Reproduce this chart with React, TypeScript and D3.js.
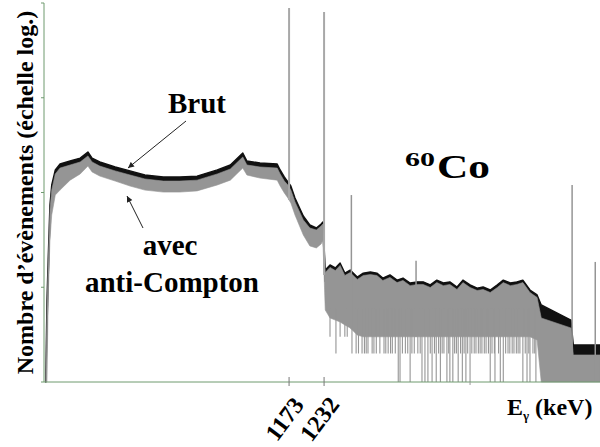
import React from "react";
import * as d3 from "d3";

// Energy samples (keV) of the spectrum envelopes
const energies = [
  763, 765, 767, 770, 773, 779, 787, 804, 821, 834,
  841, 854, 880, 905, 930, 961, 989, 1018, 1052, 1074,
  1095, 1102, 1124, 1153, 1158, 1165, 1171, 1176, 1183, 1197,
  1208, 1219, 1227, 1230,
  1234, 1242, 1251, 1259, 1267, 1276, 1288, 1298, 1310, 1321,
  1331, 1343, 1355, 1365, 1377, 1389, 1399, 1411, 1422, 1433,
  1444, 1456, 1466, 1478, 1490, 1500, 1512, 1524, 1534, 1546,
  1557, 1567, 1579, 1591, 1598, 1648, 1652, 1697,
];

// "Brut" (raw) spectrum: upper / lower edge of the noisy band (counts)
const brutHigh = [
  1, 7.3, 19.4, 73.8, 120, 173, 200, 215, 231, 268,
  231, 210, 186, 169, 153, 146, 146, 149, 173, 195,
  261, 215, 205, 200, 173, 146, 129, 117, 87.5, 56.5,
  45.4, 42.2, 46.5, 48.8,
  15.2, 17.2, 16.0, 18.0, 14.1, 15.2, 12.8, 14.1, 14.5, 14.1,
  12.5, 13.5, 11.9, 12.5, 11.1, 11.4, 11.4, 10.6, 11.9, 11.1,
  11.4, 10.06, 11.9, 10.6, 9.8, 10.06, 9.35, 10.6, 11.9, 11.1,
  11.4, 11.9, 9.35, 8.3, 6.5, 4.5, 2.46, 2.46,
];
const brutLow = [
  1, 3.54, 11.9, 51.3, 94, 142, 173, 186, 200, 231,
  200, 181, 161, 146, 132, 126, 126, 129, 149, 169,
  226, 186, 177, 173, 149, 126, 111, 101, 73.8, 48.8,
  38.3, 36.5, 38.3, 40.2,
  11.5, 13, 12, 13.6, 10.6, 11.5, 9.7, 10.6, 10.9, 10.6,
  9.4, 10.2, 9.0, 9.4, 8.3, 8.6, 8.6, 8.0, 9.0, 8.3,
  8.6, 7.6, 9.0, 8.0, 7.4, 7.6, 7.0, 8.0, 9.0, 8.3,
  8.6, 9.0, 7.0, 6.2, 4.5, 3.54, 1.93, 1.93,
];

// "avec anti-Compton" spectrum: upper / lower edge of the band (counts)
const acHigh = [
  1, 5.75, 17.2, 65.4, 106, 157, 181, 195, 210, 243,
  210, 190, 169, 153, 139, 132, 132, 135, 157, 177,
  237, 195, 186, 181, 157, 132, 120, 106, 79.4, 51.3,
  42.2, 40.2, 44.3, 46.5,
  14.3, 16.2, 15.0, 17.0, 13.3, 14.3, 12.1, 13.3, 13.6, 13.3,
  11.8, 12.7, 11.2, 11.8, 10.4, 10.7, 10.7, 9.94, 11.2, 10.4,
  10.7, 9.47, 11.2, 9.94, 9.24, 9.47, 8.8, 9.94, 11.2, 10.4,
  10.7, 11.2, 8.8, 7.8, 4.74, 3.72, 1.93, 1.93,
];
const acLow = [
  1, 1, 7.3, 31.5, 57.9, 94, 106, 135, 157, 190,
  165, 149, 132, 117, 106, 101, 101, 104, 120, 135,
  181, 153, 142, 135, 117, 99, 87.5, 77.5, 57.9, 35.6,
  27.3, 26, 28.6, 31.5,
  5.75, 4.74, 4.5, 4.3, 4.0, 3.72, 3.13, 3.0, 3.0, 3.0,
  3.0, 3.0, 3.0, 3.0, 3.0, 3.0, 3.0, 3.0, 3.0, 3.0,
  3.0, 3.0, 3.0, 3.0, 3.0, 3.0, 3.0, 3.0, 3.0, 3.0,
  3.0, 3.0, 3.0, 2.78, 1, 1, 1, 1,
];

// Low-count channels of the anti-Compton spectrum: [energy keV, counts]
const dips: [number, number][] = [
  [1242, 3], [1252, 2], [1259, 3], [1267, 3], [1271, 3], [1279, 2], [1286, 2], [1290, 2],
  [1296, 2], [1300, 2], [1303, 2], [1306, 2], [1313, 2], [1316, 2], [1320, 2], [1326, 2],
  [1333, 2], [1336, 2], [1340, 2], [1344, 2], [1347, 2], [1352, 2], [1357, 1], [1360, 1],
  [1364, 2], [1369, 2], [1373, 2], [1377, 1], [1380, 2], [1384, 2], [1390, 2], [1394, 2],
  [1397, 1], [1402, 1], [1407, 1], [1411, 2], [1414, 1], [1418, 2], [1421, 1], [1425, 2],
  [1428, 1], [1431, 2], [1434, 2], [1439, 1], [1442, 2], [1444, 1], [1449, 1], [1452, 2],
  [1455, 2], [1458, 1], [1462, 2], [1465, 1], [1468, 2], [1471, 1], [1474, 2], [1478, 1],
  [1481, 2], [1485, 2], [1488, 2], [1492, 2], [1495, 2], [1498, 2], [1502, 2], [1505, 2],
  [1509, 2], [1512, 1], [1515, 2], [1519, 2], [1520, 1], [1526, 2], [1529, 1], [1534, 1],
  [1538, 2], [1542, 2], [1545, 2], [1549, 2], [1552, 2], [1556, 2], [1559, 2], [1562, 2],
  [1567, 1], [1571, 2], [1574, 1], [1577, 2], [1579, 1], [1584, 2], [1587, 2], [1589, 1],
];

// Photopeaks / lines
const peakEnergies = [1173, 1232, 1278, 1387, 1650, 1689];
const peakCounts = [8850, 8030, 94, 19, 120, 18.5];

const xTickValues = [1173, 1232];
const xTickLabels = ["1173", "1232"];
const xMinorTicks = [1478];
const yTickValues = [1, 10, 100, 1000, 10000];

const FONT = "'Liberation Serif', 'Times New Roman', Times, serif";
const GRAY = "#959595";
const AXIS = "#6f9a6f";

export default function App() {
  const x = d3.scaleLinear().domain([760, 1697]).range([44, 600]);
  const y = d3.scaleLog().domain([1, 10000]).range([382, 3]);
  const idx = energies.map((_, i) => i);

  const band = (hi: number[], lo: number[]) =>
    d3
      .area<number>()
      .x((i) => x(energies[i]))
      .y0((i) => y(lo[i]))
      .y1((i) => y(hi[i]))(idx) || "";

  const interpLog = (arr: number[], e: number) => {
    const n = energies.length;
    let i1 = d3.bisectRight(energies, e);
    i1 = Math.min(Math.max(i1, 1), n - 1);
    const i0 = i1 - 1;
    const t = (e - energies[i0]) / (energies[i1] - energies[i0]);
    const l = Math.log10(arr[i0]) * (1 - t) + Math.log10(arr[i1]) * t;
    return Math.pow(10, l);
  };

  const [x0, x1] = x.range();
  const [yb, yt] = y.range();

  return (
    <svg
      width={600}
      height={447}
      style={{ position: "absolute", left: 0, top: 0, background: "#fff", fontFamily: FONT }}
    >
      <defs>
        <marker
          id="ah"
          viewBox="0 0 10 10"
          refX="10"
          refY="5"
          markerWidth="7"
          markerHeight="6"
          orient="auto"
          markerUnits="userSpaceOnUse"
        >
          <path d="M0,0 L10,5 L0,10 z" fill="#222" />
        </marker>
      </defs>
      <rect x={0} y={0} width={600} height={447} fill="#fff" />

      {/* Brut band */}
      <path d={band(brutHigh, brutLow)} fill="#111" stroke="#111" strokeWidth={1.4} strokeLinejoin="round" />

      {/* anti-Compton band */}
      <path d={band(acHigh, acLow)} fill={GRAY} stroke={GRAY} strokeWidth={0.6} />

      {/* drop lines */}
      {dips.map(([e, c], i) => (
        <line
          key={"d" + i}
          x1={x(e)}
          x2={x(e)}
          y1={y(6)}
          y2={y(c)}
          stroke={GRAY}
          strokeWidth={1.1}
        />
      ))}

      {/* peaks */}
      {peakEnergies.map((e, i) => (
        <line
          key={"p" + i}
          x1={x(e)}
          x2={x(e)}
          y1={y(Math.min(interpLog(acLow, e), peakCounts[i]))}
          y2={y(peakCounts[i])}
          stroke={i < 2 ? "#a8a8a8" : GRAY}
          strokeWidth={i < 2 ? 2 : 1.5}
        />
      ))}

      {/* axes */}
      <line x1={x0} x2={x0} y1={yb} y2={yt} stroke={AXIS} strokeWidth={1} />
      <line x1={x0} x2={x1} y1={yb} y2={yb} stroke={AXIS} strokeWidth={1} />
      {yTickValues.map((v) => (
        <line key={"yt" + v} x1={x0 - 3} x2={x0} y1={y(v)} y2={y(v)} stroke={AXIS} strokeWidth={1} />
      ))}
      {xTickValues.map((v) => (
        <line key={"xt" + v} x1={x(v)} x2={x(v)} y1={yb - 5} y2={yb + 4} stroke="#777" strokeWidth={1} />
      ))}
      {xMinorTicks.map((v) => (
        <line key={"xm" + v} x1={x(v)} x2={x(v)} y1={yb} y2={yb + 3} stroke="#999" strokeWidth={1} />
      ))}
      {xTickValues.map((v, i) => (
        <text
          key={"xl" + v}
          transform={`translate(${x(v) - 4.5},419) rotate(-53)`}
          textAnchor="middle"
          dominantBaseline="central"
          fontSize={24}
          fontWeight="bold"
        >
          {xTickLabels[i]}
        </text>
      ))}

      {/* axis titles */}
      <text
        transform="translate(33,192.5) rotate(-90)"
        textAnchor="middle"
        fontSize={24}
        fontWeight="bold"
      >
        Nombre d’évènements (échelle log.)
      </text>
      <text x={507} y={415} fontSize={24} fontWeight="bold">
        E
        <tspan fontSize={13} dy={5}>γ</tspan>
        <tspan dy={-5}> (keV)</tspan>
      </text>

      {/* annotations */}
      <text x={197} y={113} textAnchor="middle" fontSize={29} fontWeight="bold">
        Brut
      </text>
      <line x1={186} y1={121} x2={128} y2={168} stroke="#222" strokeWidth={1} markerEnd="url(#ah)" />
      <text x={170} y={255} textAnchor="middle" fontSize={29} fontWeight="bold">
        avec
      </text>
      <text x={172} y={292} textAnchor="middle" fontSize={29} fontWeight="bold">
        anti-Compton
      </text>
      <line x1={143} y1={228} x2={127} y2={196} stroke="#222" strokeWidth={1} markerEnd="url(#ah)" />

      <text x={405} y={166} fontSize={18} fontWeight="bold" textLength={30} lengthAdjust="spacingAndGlyphs">
        60
      </text>
      <text x={437} y={178} fontSize={33} fontWeight="bold" textLength={53} lengthAdjust="spacingAndGlyphs">
        Co
      </text>
    </svg>
  );
}
